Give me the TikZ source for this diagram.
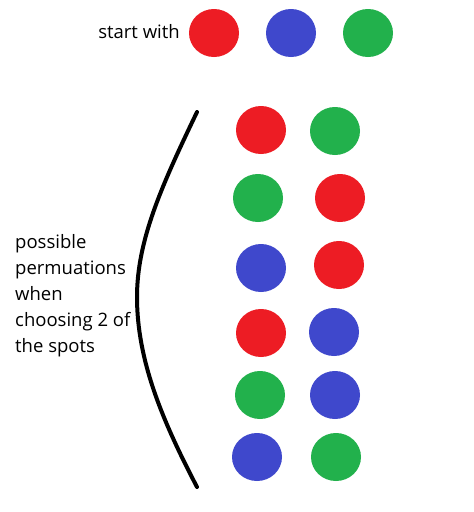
\documentclass[tikz,border=0pt]{standalone}
\usepackage{fontspec}
\setmainfont{Open Sans}
\usetikzlibrary{shapes.geometric}
\definecolor{spotred}{HTML}{ED1C24}
\definecolor{spotblue}{HTML}{3F48CC}
\definecolor{spotgreen}{HTML}{22B14C}
\begin{document}
\begin{tikzpicture}[x=1pt, y=-1pt,
    spot/.style={ellipse, inner sep=0pt, minimum width=50pt, minimum height=48pt},
    label/.style={inner sep=0pt, font=\fontsize{18.5}{26}\selectfont}]
         \useasboundingbox[fill=white] (0,0) rectangle (474,512);
         % starting spots
         \node[label] (start) at (139,32) {start with};
         \node[spot, fill=spotred]   (s1) at (214,33) {};
         \node[spot, fill=spotblue]  (s2) at (291,33) {};
         \node[spot, fill=spotgreen] (s3) at (368,33) {};
         % bracket
         \draw[line width=4pt, line cap=round] (197,112)
           .. controls (162,185) and (137,240) .. (137,297)
           .. controls (137,360) and (162,420) .. (197,487);
         \node[label, align=left, anchor=north west] (perm) at (15,234)
           {possible\\permuations\\when\\choosing 2 of\\the spots};
         % pairs
         \node[spot, fill=spotred]   (p1a) at (261,130) {};
         \node[spot, fill=spotgreen] (p1b) at (335,131) {};
         \node[spot, fill=spotgreen] (p2a) at (258,198) {};
         \node[spot, fill=spotred]   (p2b) at (340,198) {};
         \node[spot, fill=spotblue]  (p3a) at (261,268) {};
         \node[spot, fill=spotred]   (p3b) at (339,265) {};
         \node[spot, fill=spotred]   (p4a) at (261,333) {};
         \node[spot, fill=spotblue]  (p4b) at (334,332) {};
         \node[spot, fill=spotgreen] (p5a) at (260,395) {};
         \node[spot, fill=spotblue]  (p5b) at (335,395) {};
         \node[spot, fill=spotblue]  (p6a) at (257,457) {};
         \node[spot, fill=spotgreen] (p6b) at (336,457) {};
       \end{tikzpicture}
\end{document}
